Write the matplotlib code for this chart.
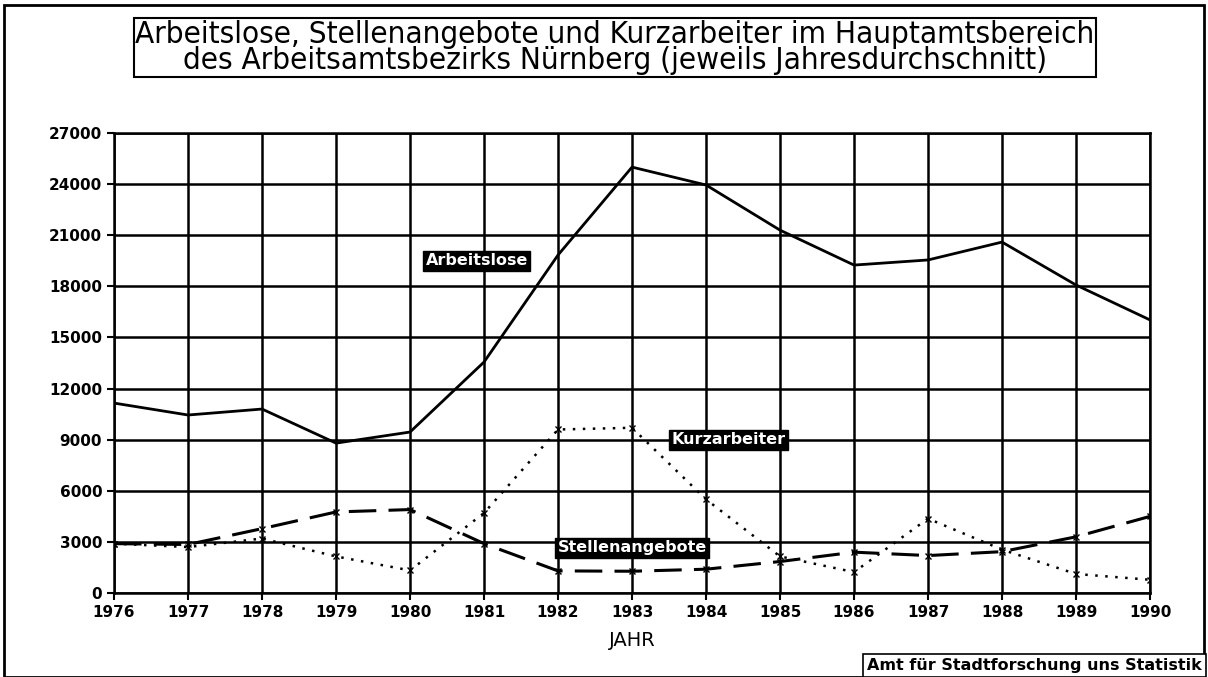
import matplotlib.pyplot as plt
from matplotlib.patches import Rectangle

# Jahresdurchschnitte
jahre = list(range(1976, 1991))
arbeitslose = [11150, 10450, 10800, 8800, 9450, 13560, 19840, 25000,
               23950, 21300, 19250, 19550, 20600, 18080, 16030]
stellenangebote = [2900, 2850, 3780, 4760, 4900, 2900, 1300, 1280,
                   1400, 1850, 2400, 2200, 2430, 3300, 4500]
kurzarbeiter = [2900, 2700, 3200, 2150, 1330, 4700, 9600, 9700,
                5500, 2150, 1230, 4370, 2550, 1120, 780]
y_ticks = list(range(0, 27001, 3000))

fig = plt.figure(figsize=(12.08, 6.77), dpi=100)
ax = fig.add_axes([0.0944, 0.124, 0.8576, 0.6795])

ax.plot(jahre, arbeitslose, color='black', linewidth=2)
ax.plot(jahre, stellenangebote, color='black', linewidth=2.2,
        linestyle=(0, (9, 4)), marker='x', markersize=5, markeredgewidth=1)
ax.plot(jahre, kurzarbeiter, color='black', linewidth=1.8,
        linestyle=(0, (1, 3)), marker='x', markersize=4, markeredgewidth=1)

ax.set_xlim(1976, 1990)
ax.set_ylim(0, 27000)
ax.set_xticks(jahre)
ax.set_yticks(y_ticks)
ax.set_xticklabels([str(j) for j in jahre], fontsize=11, fontweight='bold')
ax.set_yticklabels([str(v) for v in y_ticks], fontsize=11, fontweight='bold')
ax.tick_params(axis='both', length=5, width=1.5, direction='out')
ax.grid(True, color='black', linewidth=1.8)
for s in ax.spines.values():
    s.set_linewidth(1.8)
ax.set_xlabel('JAHR', fontsize=14, labelpad=8)

# Beschriftungen der Kurven (weiß auf schwarz)
box = dict(boxstyle='square,pad=0.15', facecolor='black', edgecolor='black')
ax.text(1980.9, 19500, 'Arbeitslose', color='white', fontsize=11.5,
        fontweight='bold', ha='center', va='center', bbox=box)
ax.text(1984.3, 9000, 'Kurzarbeiter', color='white', fontsize=11.5,
        fontweight='bold', ha='center', va='center', bbox=box)
ax.text(1983.0, 2650, 'Stellenangebote', color='white', fontsize=11.5,
        fontweight='bold', ha='center', va='center', bbox=box)

# Titel im Rahmen
fig.text(0.509, 0.93,
         'Arbeitslose, Stellenangebote und Kurzarbeiter im Hauptamtsbereich\n'
         'des Arbeitsamtsbezirks Nürnberg (jeweils Jahresdurchschnitt)',
         ha='center', va='center', fontsize=22.5, fontstretch='condensed',
         linespacing=0.9,
         bbox=dict(boxstyle='square,pad=0.05', facecolor='white',
                   edgecolor='black', linewidth=1.5))

# Quellenangabe unten rechts
fig.text(0.995, 0.017, 'Amt für Stadtforschung uns Statistik',
         ha='right', va='center', fontsize=11.5, fontweight='bold',
         bbox=dict(boxstyle='square,pad=0.25', facecolor='white',
                   edgecolor='black', linewidth=1.2))

# Rahmen um das ganze Bild
fig.patches.append(Rectangle((0.003, 0.0), 0.994, 0.992, transform=fig.transFigure,
                             fill=False, edgecolor='black', linewidth=2))

fig.savefig('out.png', dpi=100)
